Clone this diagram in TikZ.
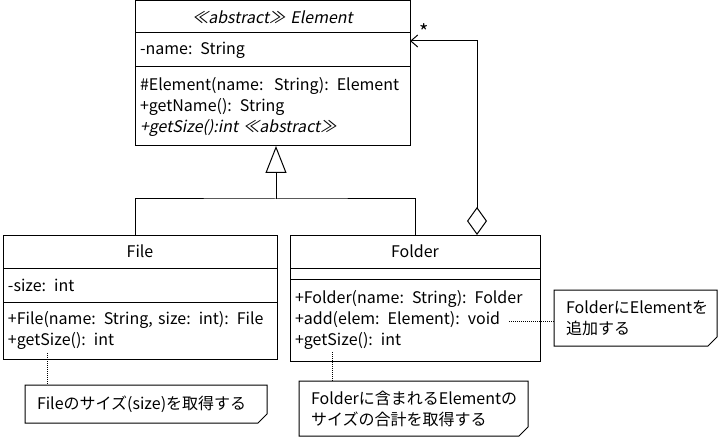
\documentclass[tikz,border=0pt]{standalone}
\usepackage{fontspec}
\setmainfont{Noto Sans CJK JP}
\newfontfamily\slantFont[FakeSlant=0.2]{Noto Sans CJK JP}
\usetikzlibrary{positioning,arrows.meta}
\tikzstyle{diagram} = [x = 1pt, y = -1pt, every node/.style={font=\fontsize{16}{21}\selectfont}]
\tikzstyle{umlLine} = [color=black, line width=1pt]
\tikzstyle{compartment} = [draw, umlLine, anchor=north west, inner sep=0pt, inner xsep=5pt, outer sep=0pt, align=left]
\tikzstyle{noteBox} = [anchor=north west, inner sep=0pt, inner xsep=12pt, outer sep=0pt, align=left]
\tikzstyle{noteLink} = [color=black, line width=.8pt, dash pattern=on 1pt off 1pt]
\newcommand{\foldCut}{9pt}
\newcommand{\noteOutline}[1]{\draw [umlLine] (#1.north west) -- (#1.north east) -- ([yshift=\foldCut]#1.south east) -- ([xshift=-\foldCut]#1.south east) -- (#1.south west) -- cycle;}
\begin{document}
\begin{tikzpicture}[diagram]
  \useasboundingbox (0,0) rectangle (718,441);
  % Element
  \node [compartment, minimum width=275pt, minimum height=32pt, text width=265pt, align=center] (elementTitle) at (135,1) {\slantFont ≪abstract≫ Element};
  \node [compartment, minimum width=275pt, minimum height=34pt, text width=265pt] (elementAttr) at (elementTitle.south west) {-name: String};
  \node [compartment, minimum width=275pt, minimum height=79pt, text width=265pt] (elementOps) at (elementAttr.south west) {\#Element(name:\ \ String): Element\\+getName(): String\\{\slantFont +getSize():int ≪abstract≫}};
  % File
  \node [compartment, minimum width=274pt, minimum height=33pt, text width=264pt, align=center] (fileTitle) at (3,235) {File};
  \node [compartment, minimum width=274pt, minimum height=34pt, text width=264pt] (fileAttr) at (fileTitle.south west) {-size: int};
  \node [compartment, minimum width=274pt, minimum height=57pt, text width=264pt] (fileOps) at (fileAttr.south west) {+File(name: String, size: int): File\\+getSize(): int};
  % Folder
  \node [compartment, minimum width=250pt, minimum height=33pt, text width=240pt, align=center] (folderTitle) at (290,235) {Folder};
  \node [compartment, minimum width=250pt, minimum height=11pt] (folderAttr) at (folderTitle.south west) {};
  \node [compartment, minimum width=250pt, minimum height=82pt, text width=240pt] (folderOps) at (folderAttr.south west) {+Folder(name: String): Folder\\+add(elem: Element): void\\+getSize(): int};
  % notes
  \node [noteBox, minimum width=163pt, minimum height=56pt, text width=139pt] (noteAdd) at (554,290) {FolderにElementを\\追加する};
  \node [noteBox, minimum width=229pt, minimum height=55pt, text width=205pt] (noteFolderSize) at (299,381) {Folderに含まれるElementの\\サイズの合計を取得する};
  \node [noteBox, minimum width=242pt, minimum height=38pt, text width=218pt] (noteFileSize) at (25,385) {Fileのサイズ(size)を取得する};
  \noteOutline{noteAdd}
  \noteOutline{noteFolderSize}
  \noteOutline{noteFileSize}
  % generalization
  \coordinate (inheritBar) at (276,199);
  \draw [umlLine, -{Triangle[open, length=27pt, width=21pt]}] (inheritBar) -- (inheritBar |- elementOps.south);
  \draw [umlLine] (elementTitle.west |- fileTitle.north) |- (inheritBar) -| (folderTitle.north);
  % aggregation
  \coordinate (aggregateFoot) at ([xshift=62pt]folderTitle.north);
  \draw [umlLine, {Diamond[open, length=28pt, width=20pt]}-{Straight Barb[length=7pt, width=12pt]}] (aggregateFoot) |- ([yshift=-8pt]elementAttr.north east);
  \node [font=\fontsize{20}{21}\selectfont] (manyLabel) at (424,32) {*};
  % note links
  \coordinate (addEnd) at (509,321);
  \draw [noteLink] (addEnd) -- (addEnd -| noteAdd.west);
  \coordinate (folderSizeEnd) at (332,352);
  \draw [noteLink] (folderSizeEnd) -- (folderSizeEnd |- noteFolderSize.north);
  \coordinate (fileSizeEnd) at (47,353);
  \draw [noteLink] (fileSizeEnd) -- (fileSizeEnd |- noteFileSize.north);
\end{tikzpicture}
\end{document}
